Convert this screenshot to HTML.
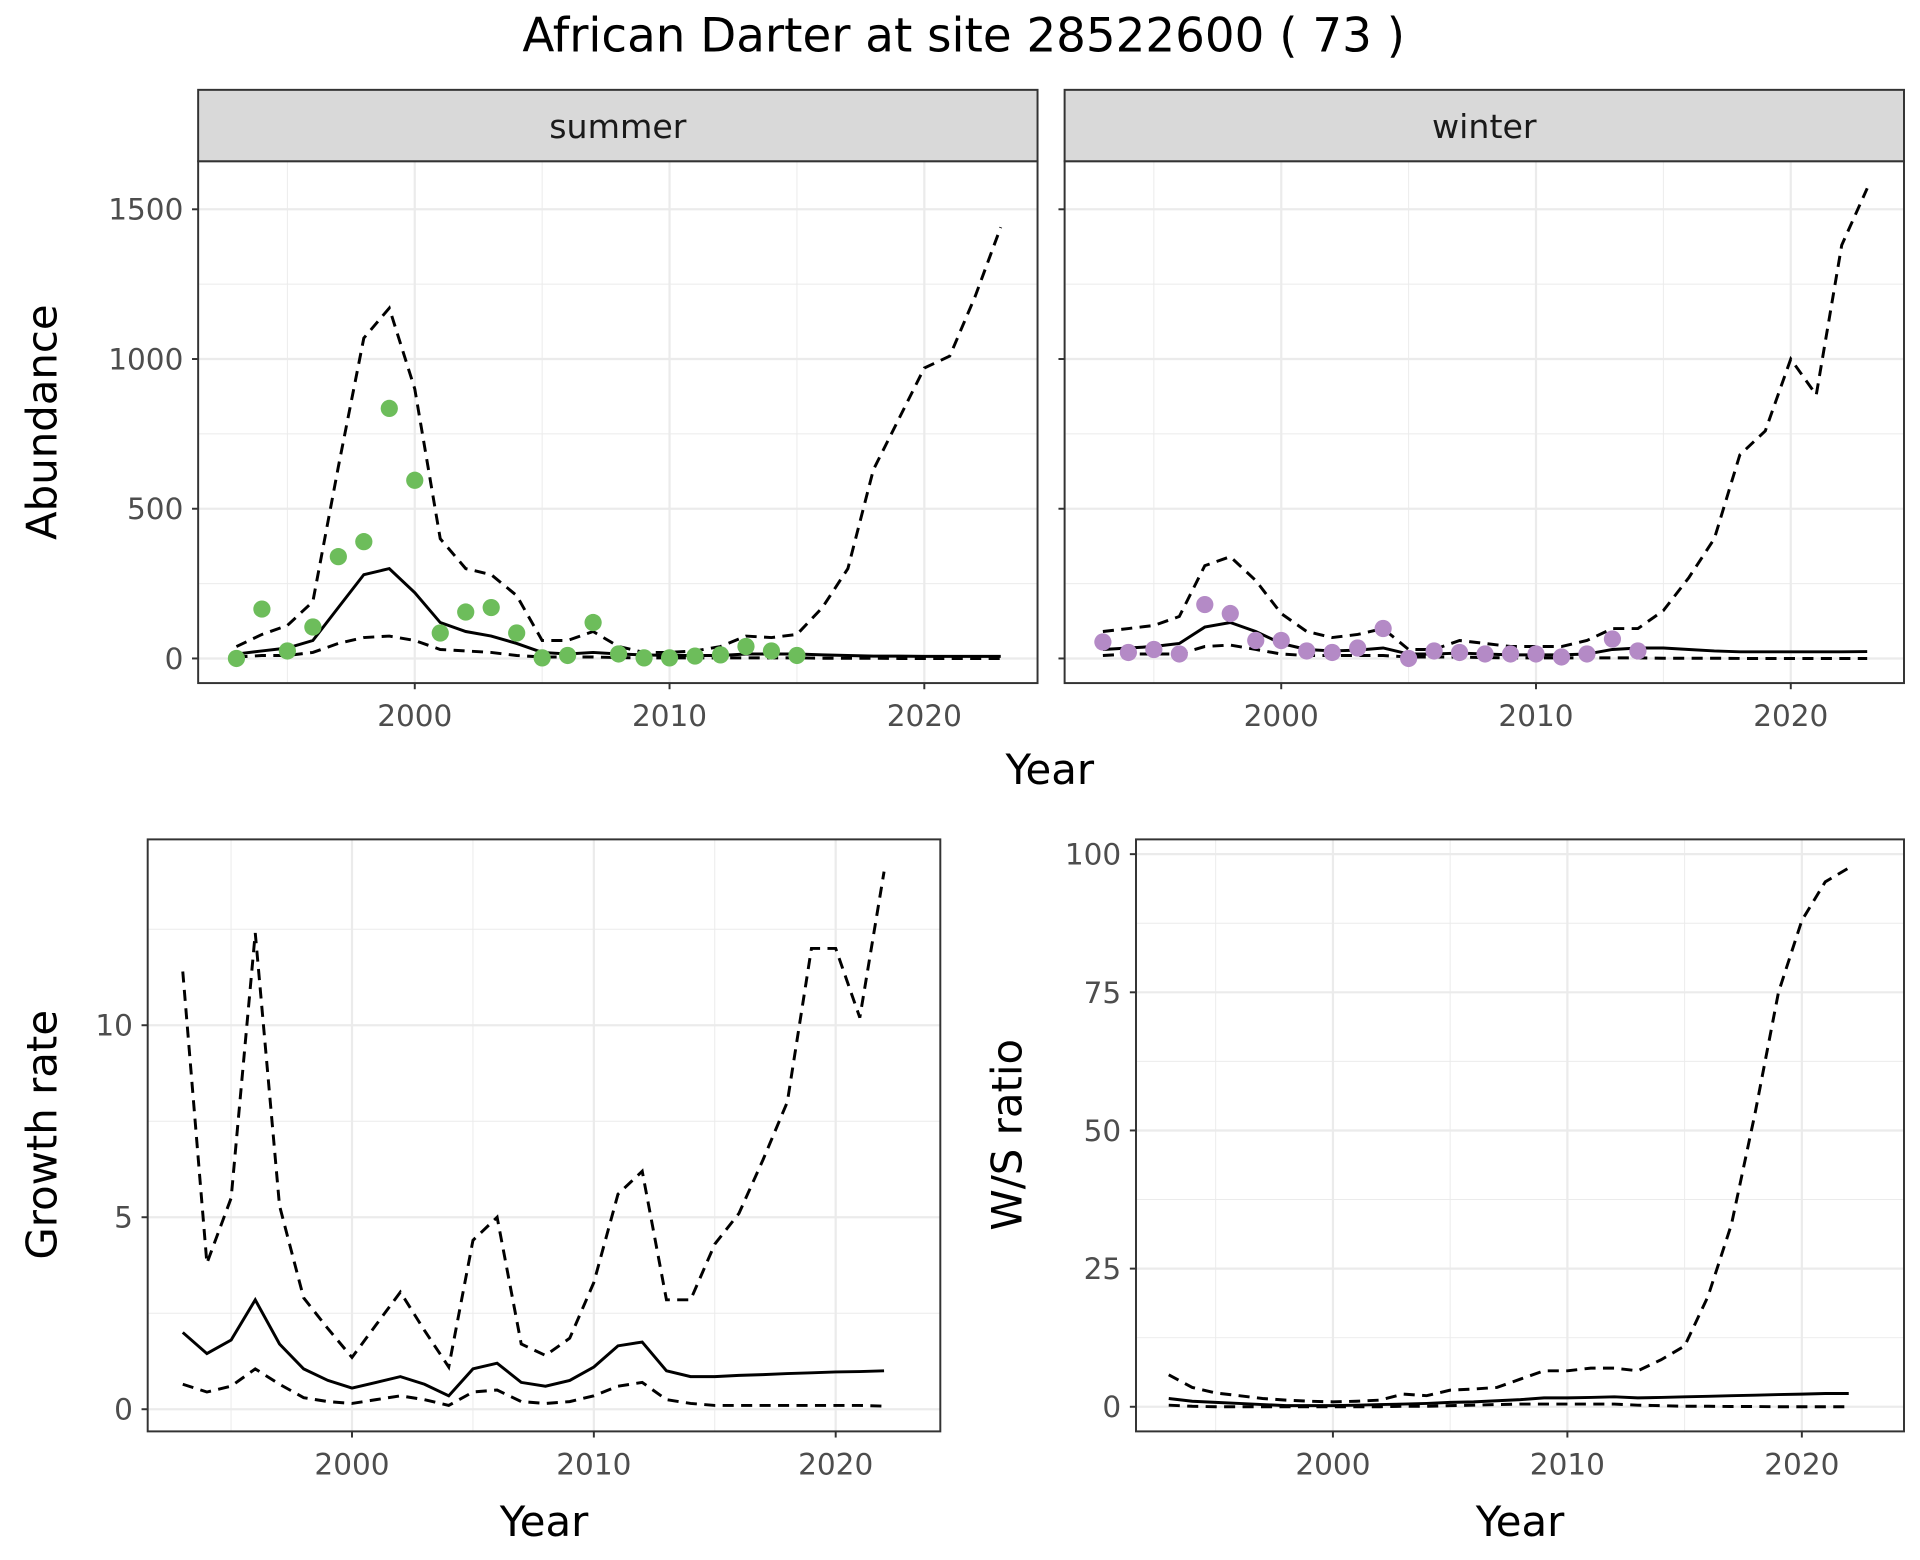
<!DOCTYPE html>
<html><head><meta charset="utf-8"><style>
html,body{margin:0;padding:0;background:#fff}
svg{display:block;font-family:"DejaVu Sans","Liberation Sans",sans-serif}
</style></head><body>
<svg id="c" width="1920" height="1560" viewBox="0 0 1560 1267.5" xmlns="http://www.w3.org/2000/svg">
<text x="783" y="42" font-size="38" text-anchor="middle" fill="#000">African Darter at site 28522600 ( 73 )</text>
</svg>
<script>
const yearsA = [1993,1994,1995,1996,1997,1998,1999,2000,2001,2002,2003,2004,2005,2006,2007,2008,2009,2010,2011,2012,2013,2014,2015,2016,2017,2018,2019,2020,2021,2022,2023];
const summerPtYears = [1993,1994,1995,1996,1997,1998,1999,2000,2001,2002,2003,2004,2005,2006,2007,2008,2009,2010,2011,2012,2013,2014,2015];
const summerPts = [0,165,25,105,340,390,835,595,85,155,170,85,2,10,120,15,2,2,8,12,40,25,10];
const summerMean = [15,25,35,60,170,280,300,220,120,90,75,50,20,15,20,15,12,10,10,10,15,15,15,12,10,8,8,7,7,7,7];
const summerUpper = [40,80,110,190,640,1070,1170,900,400,300,280,210,60,60,90,40,20,20,25,40,75,70,80,170,300,630,800,970,1010,1210,1440];
const summerLower = [5,10,10,20,50,70,75,60,30,25,20,10,5,5,5,3,2,2,2,2,2,2,2,1,1,1,0,0,0,0,0];
const winterPtYears = [1993,1994,1995,1996,1997,1998,1999,2000,2001,2002,2003,2004,2005,2006,2007,2008,2009,2010,2011,2012,2013,2014];
const winterPts = [55,20,30,15,180,150,60,60,25,20,35,100,0,25,20,15,15,15,5,15,65,25];
const winterMean = [30,35,40,50,105,120,90,50,30,25,28,35,15,15,18,15,12,12,12,15,30,35,35,30,25,22,22,22,22,22,23];
const winterUpper = [90,100,110,140,310,340,260,150,90,70,80,100,30,30,60,50,40,40,40,60,100,100,160,270,400,680,760,1000,880,1380,1570];
const winterLower = [10,15,15,15,40,45,30,15,10,10,10,10,5,5,5,3,2,2,2,2,2,2,1,1,1,0,0,0,0,0,0];
const yearsB = [1993,1994,1995,1996,1997,1998,1999,2000,2001,2002,2003,2004,2005,2006,2007,2008,2009,2010,2011,2012,2013,2014,2015,2016,2017,2018,2019,2020,2021,2022];
const growthMean = [2.0,1.45,1.8,2.85,1.7,1.05,0.75,0.55,0.7,0.85,0.65,0.35,1.05,1.2,0.7,0.6,0.75,1.1,1.65,1.75,1.0,0.85,0.85,0.88,0.9,0.93,0.95,0.97,0.98,1.0];
const growthUpper = [11.4,3.8,5.5,12.4,5.3,2.9,2.1,1.35,2.2,3.05,2.05,1.1,4.4,5.0,1.7,1.4,1.85,3.3,5.6,6.2,2.85,2.85,4.3,5.1,6.5,8.0,12.0,12.0,10.2,14.0];
const growthLower = [0.65,0.45,0.6,1.05,0.65,0.3,0.2,0.15,0.25,0.35,0.25,0.1,0.45,0.5,0.2,0.15,0.2,0.35,0.6,0.7,0.25,0.15,0.1,0.1,0.1,0.1,0.1,0.1,0.1,0.08];
const ratioMean = [1.5,1.0,0.8,0.6,0.4,0.2,0.2,0.2,0.3,0.4,0.5,0.6,0.8,0.9,1.1,1.3,1.6,1.6,1.7,1.8,1.6,1.7,1.8,1.9,2.0,2.1,2.2,2.3,2.4,2.4];
const ratioUpper = [5.8,3.5,2.5,2.0,1.5,1.2,1.0,0.9,1.0,1.2,2.3,2.0,3.0,3.2,3.5,5.0,6.5,6.5,7.0,7.0,6.5,8.5,11,20,33,53,75,88,95,97.5];
const ratioLower = [0.3,0.1,0,0,0,0,0,0,0,0,0.1,0.1,0.2,0.3,0.4,0.5,0.5,0.5,0.5,0.5,0.3,0.2,0.1,0.1,0.05,0.05,0,0,0,0];
const xTicks = [2000,2010,2020];
const abundTicks = [0,500,1000,1500];
const growthTicks = [0,5,10];
const ratioTicks = [0,25,50,75,100];

const NS='http://www.w3.org/2000/svg';
const svg=document.getElementById('c');
function mk(tag,attrs,parent){const e=document.createElementNS(NS,tag);for(const k in attrs)e.setAttribute(k,attrs[k]);(parent||svg).appendChild(e);return e;}

function panel(o){
  const g=mk('g',{});
  
  
  const sx=v=>o.x0+(v-2000)*o.px;
  const sy=v=>o.y0-v*o.py;
  mk('rect',{x:o.L,y:o.T,width:o.R-o.L,height:o.B-o.T,fill:'#fff'},g);
  const ystep=o.yTicks[1]-o.yTicks[0];
  for(let v=o.yTicks[0]-ystep/2;v<=o.yTicks[o.yTicks.length-1]+ystep;v+=ystep){const y=sy(v);if(y>o.T&&y<o.B)mk('line',{x1:o.L,x2:o.R,y1:y,y2:y,stroke:'#ebebeb','stroke-width':0.8},g);}
  for(let v=1990;v<=2030;v+=10){const x=sx(v+5);if(x>o.L&&x<o.R)mk('line',{x1:x,x2:x,y1:o.T,y2:o.B,stroke:'#ebebeb','stroke-width':0.8},g);}
  o.yTicks.forEach(v=>{const y=sy(v);mk('line',{x1:o.L,x2:o.R,y1:y,y2:y,stroke:'#ebebeb','stroke-width':1.8},g);});
  xTicks.forEach(v=>{const x=sx(v);mk('line',{x1:x,x2:x,y1:o.T,y2:o.B,stroke:'#ebebeb','stroke-width':1.8},g);});
  const path=(xs,ys,dash,nm)=>{const d=xs.map((x,i)=>(i?'L':'M')+sx(x).toFixed(1)+','+sy(ys[i]).toFixed(1)).join('');const p=mk('path',{d:d,fill:'none',stroke:'#000','stroke-width':2.4,'stroke-dasharray':dash?'9,6':'none'},g);};
  if(o.upper)path(o.years,o.upper,true,'upper-bound-line');
  if(o.lower)path(o.years,o.lower,true,'lower-bound-line');
  path(o.years,o.mean,false,'mean-line');
  if(o.pts){o.ptYears.forEach((yr,i)=>{const c=mk('circle',{cx:sx(yr),cy:sy(o.pts[i]),r:7,fill:o.color},g);});}
  mk('rect',{x:o.L,y:o.T,width:o.R-o.L,height:o.B-o.T,fill:'none',stroke:'#333','stroke-width':1.6},g);
  o.yTicks.forEach(v=>{const y=sy(v);mk('line',{x1:o.L-5,x2:o.L,y1:y,y2:y,stroke:'#333','stroke-width':1.6},g);if(o.showY){const t=mk('text',{x:o.L-12,y:y+8.5,'font-size':24,'text-anchor':'end',fill:'#4d4d4d'},g);t.textContent=v;}});
  xTicks.forEach(v=>{const x=sx(v);mk('line',{x1:x,x2:x,y1:o.B,y2:o.B+5,stroke:'#333','stroke-width':1.6},g);const t=mk('text',{x:x,y:o.B+35,'font-size':24,'text-anchor':'middle',fill:'#4d4d4d'},g);t.textContent=v;});
  if(o.strip){mk('rect',{x:o.L,y:73,width:o.R-o.L,height:o.T-73,fill:'#d9d9d9',stroke:'#333','stroke-width':1.6},g);const t=mk('text',{x:(o.L+o.R)/2,y:112,'font-size':27,'text-anchor':'middle',fill:'#1a1a1a'},g);t.textContent=o.strip;}
}
function label(txt,x,y,rot,nm){const t=mk('text',{x:x,y:y,'font-size':34,'text-anchor':'middle',fill:'#000',transform:rot?`rotate(-90 ${x} ${y})`:''});t.textContent=txt;}

panel({name:'summer-panel',L:161,R:843,T:131,B:555,x0:337,px:20.7,y0:535,py:0.2433,yTicks:abundTicks,showY:true,years:yearsA,mean:summerMean,upper:summerUpper,lower:summerLower,ptYears:summerPtYears,pts:summerPts,color:'#6dbd5b',strip:'summer'});
panel({name:'winter-panel',L:865,R:1547,T:131,B:555,x0:1041,px:20.7,y0:535,py:0.2433,yTicks:abundTicks,showY:false,years:yearsA,mean:winterMean,upper:winterUpper,lower:winterLower,ptYears:winterPtYears,pts:winterPts,color:'#b48ac6',strip:'winter'});
label('Year',853,637,false,'x-axis-title-top');
label('Abundance',46,343,true,'y-axis-title-abundance');
panel({name:'growth-panel',L:120,R:764,T:682,B:1163,x0:286,px:19.65,y0:1145,py:31.2,yTicks:growthTicks,showY:true,years:yearsB,mean:growthMean,upper:growthUpper,lower:growthLower});
label('Year',442,1248,false,'x-axis-title-growth');
label('Growth rate',46,922,true,'y-axis-title-growth');
panel({name:'ratio-panel',L:923,R:1547,T:682,B:1163,x0:1083,px:19.05,y0:1143,py:4.49,yTicks:ratioTicks,showY:true,years:yearsB,mean:ratioMean,upper:ratioUpper,lower:ratioLower});
label('Year',1235,1248,false,'x-axis-title-ratio');
label('W/S ratio',830,922,true,'y-axis-title-ratio');
</script>
</body></html>
